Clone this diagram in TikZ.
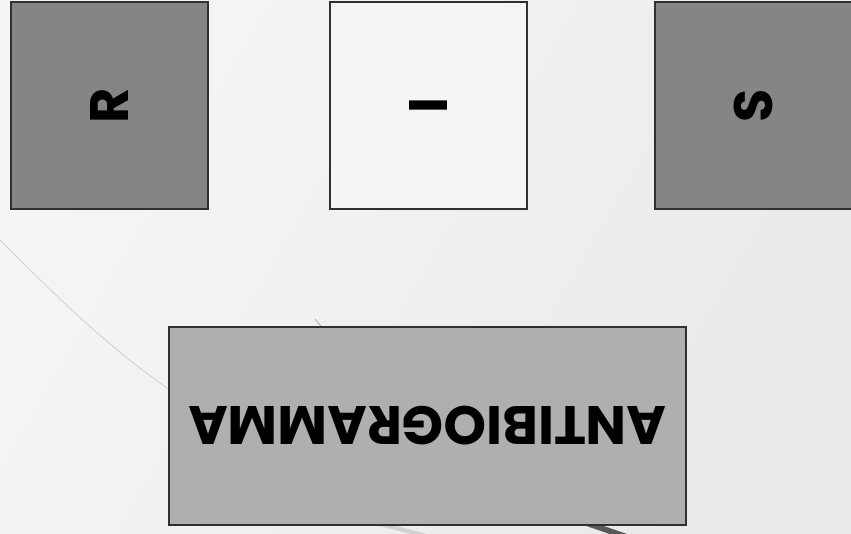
\documentclass[tikz,border=0pt]{standalone}
\usepackage{fontspec}
\newfontfamily\gothic{Poppins}
\usetikzlibrary{calc}

\definecolor{slidebg}{HTML}{F5F5F5}
\definecolor{slidebgdark}{HTML}{EAEAEA}
\definecolor{boxline}{HTML}{303030}
\definecolor{darkfill}{HTML}{858585}
\definecolor{lightfill}{HTML}{F5F5F5}
\definecolor{midfill}{HTML}{AFAFAF}

\begin{document}
\begin{tikzpicture}[
    x=0.025cm, y=-0.025cm,
    card/.style={draw=boxline, line width=1.8pt, inner sep=0pt,
                 font=\gothic\bfseries\fontsize{38.5}{38.5}\selectfont},
    letter/.style={card, rotate=90, minimum width=5.175cm, minimum height=4.925cm},
    deco/.style={line cap=butt},
  ]
  % --- background ---
  \useasboundingbox (0,0) rectangle (851,534);
  \clip (0,0) rectangle (851,534);
  \shade[left color=slidebg, right color=slidebgdark, shading angle=60]
    (0,0) rectangle (851,534);
  \draw[deco, gray!35, line width=0.6pt] (0,240) .. controls (60,300) and (120,360) .. (200,410);
  \draw[deco, gray!80, line width=0.4pt] (315,319) -- (325,331);
  \draw[deco, gray!35, line width=3pt] (350,516) -- (430,537);
  \draw[deco, black!65, line width=4pt] (560,514) -- (630,538);

  % --- result boxes (top) ---
  \node[letter, fill=darkfill] (resist) at (109.5,105.5) {R};
  \node[letter, fill=lightfill] (interm) at (428.5,105.5) {I};
  \node[letter, fill=darkfill] (suscep) at (753.5,105.5) {S};

  % --- test box (bottom) ---
  \node[card, fill=midfill, rotate=180, minimum width=12.925cm, minimum height=4.95cm]
    (antibio) at (427.5,426) {ANTIBIOGRAMMA};
\end{tikzpicture}
\end{document}
